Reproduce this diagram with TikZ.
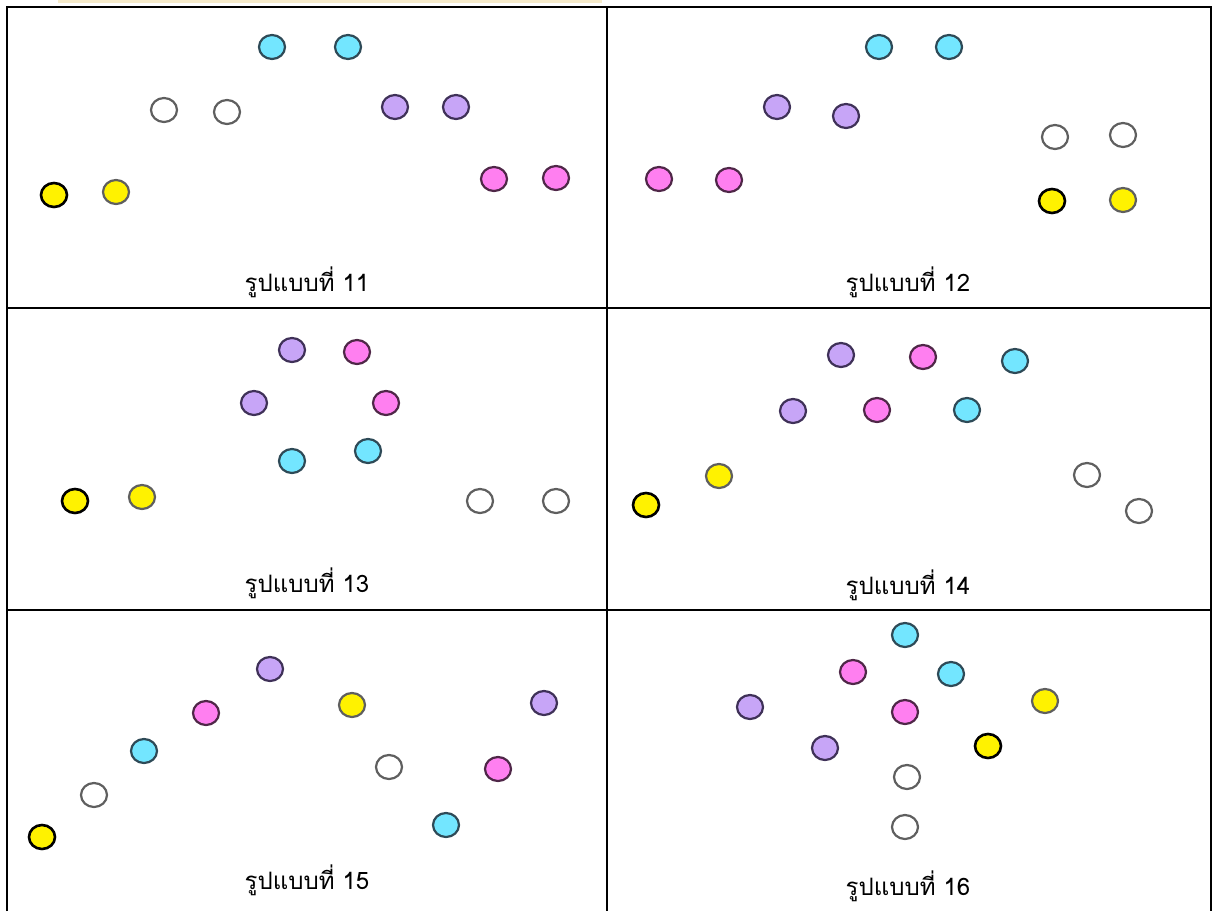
\documentclass[tikz,border=0pt]{standalone}
\usepackage{fontspec}
\newfontfamily\thaifont[Script=Thai]{Loma}
\usepackage{xcolor}
\usepackage{tikz}
\usetikzlibrary{shapes.geometric}

\definecolor{cyanfill}{HTML}{73E6FF}
\definecolor{cyanline}{HTML}{2E4A57}
\definecolor{lilacfill}{HTML}{C7A5F7}
\definecolor{lilacline}{HTML}{3F3158}
\definecolor{pinkfill}{HTML}{FF7FF0}
\definecolor{pinkline}{HTML}{4F2748}
\definecolor{greyline}{HTML}{5F5F5F}
\definecolor{topstrip}{HTML}{F6EBCB}

\tikzset{
  dot/.style={ellipse, minimum width=26pt, minimum height=24pt, inner sep=0pt, line width=2.2pt},
  dotcyan/.style={dot, draw=cyanline, fill=cyanfill},
  dotlilac/.style={dot, draw=lilacline, fill=lilacfill},
  dotpink/.style={dot, draw=pinkline, fill=pinkfill},
  dotwhite/.style={dot, draw=greyline, fill=white},
  dotyellow/.style={dot, draw=greyline, fill=yellow},
  dotyellowbk/.style={dot, draw=black, fill=yellow, line width=2.6pt},
  caption/.style={font=\thaifont\fontsize{24}{28}\selectfont, inner sep=0pt},
  grid line/.style={line width=2pt, black}
}

\begin{document}
\begin{tikzpicture}[x=1pt,y=-1pt]
\useasboundingbox (0,0) rectangle (1216,911);
\fill[topstrip] (58,0) rectangle (602,2.5);

% table
\coordinate (tl) at (7,7);
\coordinate (tr) at (1211,7);
\draw[grid line] (7,911) -- (tl) -- (tr) -- (1211,911);
\draw[grid line] (607,7) -- (607,911);
\draw[grid line] (7,308) -- (1211,308);
\draw[grid line] (7,610) -- (1211,610);

% pattern 11
\foreach \x/\y/\s [count=\i] in {272/47/dotcyan, 348/47/dotcyan,
    164/110/dotwhite, 227/112/dotwhite, 395/107/dotlilac, 456/107/dotlilac,
    54/195/dotyellowbk, 116/192/dotyellow, 494/179/dotpink, 556/178/dotpink}
  \node[\s] (a\i) at (\x,\y) {};
\node[caption] (cap11) at (307,282) {รูปแบบที่ 11};

% pattern 12
\foreach \x/\y/\s [count=\i] in {879/47/dotcyan, 949/47/dotcyan,
    777/107/dotlilac, 846/116/dotlilac, 1055/137/dotwhite, 1123/135/dotwhite,
    659/179/dotpink, 729/180/dotpink, 1052/201/dotyellowbk, 1123/200/dotyellow}
  \node[\s] (b\i) at (\x,\y) {};
\node[caption] (cap12) at (908,282) {รูปแบบที่ 12};

% pattern 13
\foreach \x/\y/\s [count=\i] in {292/350/dotlilac, 357/352/dotpink,
    254/403/dotlilac, 386/403/dotpink, 292/461/dotcyan, 368/451/dotcyan,
    75/501/dotyellowbk, 142/497/dotyellow, 480/501/dotwhite, 556/501/dotwhite}
  \node[\s] (c\i) at (\x,\y) {};
\node[caption] (cap13) at (307,583) {รูปแบบที่ 13};

% pattern 14
\foreach \x/\y/\s [count=\i] in {841/355/dotlilac, 923/357/dotpink, 1015/361/dotcyan,
    793/411/dotlilac, 877/410/dotpink, 967/410/dotcyan,
    719/476/dotyellow, 646/505/dotyellowbk, 1087/475/dotwhite, 1139/511/dotwhite}
  \node[\s] (d\i) at (\x,\y) {};
\node[caption] (cap14) at (908,585) {รูปแบบที่ 14};

% pattern 15
\foreach \x/\y/\s [count=\i] in {270/669/dotlilac, 206/713/dotpink,
    352/705/dotyellow, 544/703/dotlilac, 144/751/dotcyan, 389/767/dotwhite,
    498/769/dotpink, 94/795/dotwhite, 446/825/dotcyan, 42/837/dotyellowbk}
  \node[\s] (e\i) at (\x,\y) {};
\node[caption] (cap15) at (307,880) {รูปแบบที่ 15};

% pattern 16
\foreach \x/\y/\s [count=\i] in {905/635/dotcyan, 853/672/dotpink, 951/674/dotcyan,
    750/707/dotlilac, 905/712/dotpink, 1045/701/dotyellow,
    825/748/dotlilac, 988/746/dotyellowbk, 907/777/dotwhite, 905/827/dotwhite}
  \node[\s] (f\i) at (\x,\y) {};
\node[caption] (cap16) at (908,886) {รูปแบบที่ 16};
\end{tikzpicture}
\end{document}
